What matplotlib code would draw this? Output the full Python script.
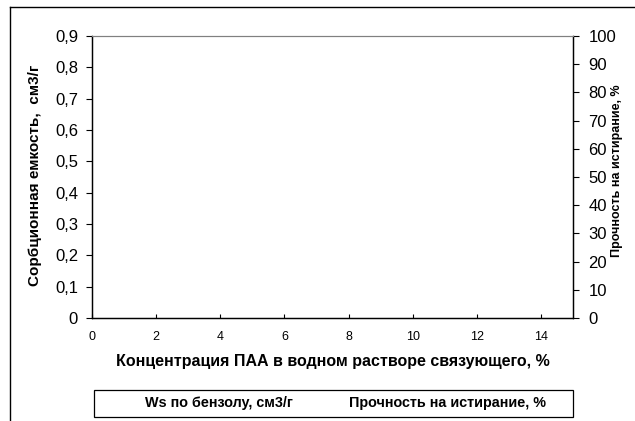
import matplotlib
matplotlib.use("Agg")
import matplotlib.pyplot as plt
from matplotlib.lines import Line2D
from matplotlib.patches import Rectangle

plt.rcParams['font.family'] = ['Liberation Sans', 'DejaVu Sans']

# series are empty in the source chart
conc_ws = []
ws_benzene = []
conc_str = []
strength = []

labels = ["Ws по бензолу, см3/г", "Прочность на истирание, %"]
x_ticks = [0, 2, 4, 6, 8, 10, 12, 14]
y1_ticks = [0, 0.1, 0.2, 0.3, 0.4, 0.5, 0.6, 0.7, 0.8, 0.9]
y1_labels = ["0", "0,1", "0,2", "0,3", "0,4", "0,5", "0,6", "0,7", "0,8", "0,9"]
y2_ticks = [0, 10, 20, 30, 40, 50, 60, 70, 80, 90, 100]

W, H = 635, 421
fig = plt.figure(figsize=(W / 100, H / 100), dpi=100)

# plot area in pixels: left 92, right 573, top 36, bottom 318
ax = fig.add_axes([92 / W, 1 - 318 / H, (573 - 92) / W, (318 - 36) / H])
ax2 = ax.twinx()

l1, = ax.plot(conc_ws, ws_benzene, color='navy', label=labels[0])
l2, = ax2.plot(conc_str, strength, color='magenta', label=labels[1])

ax.set_xlim(0, 15)
ax.set_ylim(0, 0.9)
ax2.set_ylim(0, 100)

ax.set_xticks(x_ticks)
ax.set_xticklabels([str(t) for t in x_ticks], fontsize=9)
ax.tick_params(axis='x', direction='in', length=3, width=0.8, pad=9)
ax.set_yticks(y1_ticks)
ax.set_yticklabels(y1_labels, fontsize=12)
ax.tick_params(axis='y', direction='out', length=4, width=0.8, pad=6)
ax2.set_yticks(y2_ticks)
ax2.set_yticklabels([str(t) for t in y2_ticks], fontsize=12)
ax2.tick_params(axis='y', direction='out', length=4, width=0.8, pad=7)

for a in (ax, ax2):
    a.spines['top'].set_color('#808080')
    a.spines['top'].set_linewidth(0.8)
    a.spines['left'].set_linewidth(0.9)
    a.spines['bottom'].set_linewidth(0.9)
    a.spines['right'].set_linewidth(0.9)

ax.set_xlabel("Концентрация ПАА в водном растворе связующего, %",
              fontsize=11.5, fontweight='bold', labelpad=8)
ax.set_ylabel("Сорбционная емкость,  см3/г", fontsize=11, fontweight='bold')
ax.yaxis.set_label_coords(-0.104, 0.507)
ax2.set_ylabel("Прочность на истирание, %", fontsize=9, fontweight='bold')
ax2.yaxis.set_label_coords(1.079, 0.521)

# outer chart frame
fig.add_artist(Line2D([9.5 / W, 9.5 / W], [0, 1 - 7 / H], color='black', lw=1))
fig.add_artist(Line2D([9.5 / W, 1], [1 - 7 / H, 1 - 7 / H], color='black', lw=1))

# legend box
fig.add_artist(Rectangle((94 / W, 1 - 417 / H), (573 - 94) / W, 27 / H,
                         transform=fig.transFigure, fill=False,
                         edgecolor='black', lw=0.9))
leg = fig.legend(handles=[l1, l2], labels=labels, ncol=2,
                 loc='center left', bbox_to_anchor=(145 / W, 1 - 403 / H),
                 frameon=False, handlelength=0, handletextpad=0,
                 borderpad=0, borderaxespad=0, columnspacing=3.9,
                 prop={'size': 10.4, 'weight': 'bold'})
for h in leg.legend_handles:
    h.set_visible(False)

fig.savefig("out.png", dpi=100)
